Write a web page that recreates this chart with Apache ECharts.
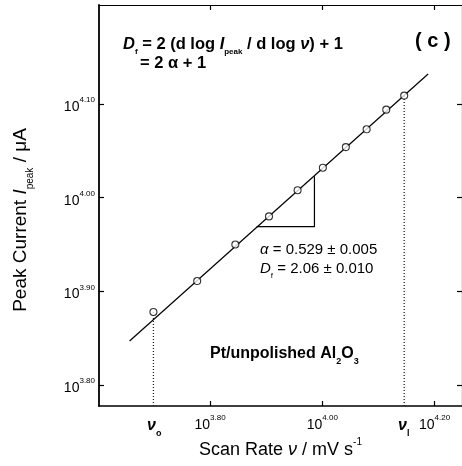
<!DOCTYPE html>
<html>
<head>
<meta charset="utf-8">
<script src="https://cdn.jsdelivr.net/npm/echarts@6/dist/echarts.min.js"></script>
<style>
  html, body { margin: 0; padding: 0; background: #fff; }
  #chart { width: 462px; height: 466px; }
</style>
</head>
<body>
<div id="chart"></div>
<script>
// ---- data (log10 exponents) ----
const scanRateLog   = [3.699, 3.777, 3.845, 3.905, 3.956, 4.001, 4.042, 4.079, 4.114, 4.146];
const peakCurrentLog = [3.878, 3.911, 3.950, 3.980, 4.008, 4.032, 4.054, 4.073, 4.094, 4.109];
const fitLineX = [3.6565, 4.1886];
const fitLineY = [3.847, 4.132];
const slopeTriX = [3.883, 3.986, 3.986];
const slopeTriY = [3.969, 3.969, 4.023];
const xTicks = [3.80, 4.00, 4.20];
const yTicks = [3.80, 3.90, 4.00, 4.10];
const xRange = [3.602, 4.249];
const yRange = [3.7776, 4.2057];

const FONT = '"Liberation Sans", Arial, sans-serif';
const pts = scanRateLog.map((x, i) => [x, peakCurrentLog[i]]);
const fit = fitLineX.map((x, i) => [x, fitLineY[i]]);
const tri = slopeTriX.map((x, i) => [x, slopeTriY[i]]);
const nu0 = [[scanRateLog[0], yRange[0]], [scanRateLog[0], peakCurrentLog[0]]];
const nLast = scanRateLog.length - 1;
const nu1 = [[scanRateLog[nLast], yRange[0]], [scanRateLog[nLast], peakCurrentLog[nLast]]];

const powRich = {
  b: { fontSize: 14, fontFamily: FONT, color: '#000', lineHeight: 20, verticalAlign: 'bottom' },
  s: { fontSize: 8, fontFamily: FONT, color: '#000', lineHeight: 20, verticalAlign: 'top', padding: [2, 0, 0, 0] }
};
const powFmt = v => '{b|10}{s|' + v.toFixed(2) + '}';

const chart = echarts.init(document.getElementById('chart'), null, { renderer: 'canvas' });
chart.setOption({
  animation: false,
  backgroundColor: '#fff',
  grid: { left: 99, right: 0, top: 5, bottom: 60, containLabel: false },
  xAxis: [{
    type: 'value', min: xRange[0], max: xRange[1], position: 'bottom',
    axisLine: { show: true, lineStyle: { color: '#000', width: 1.6 } },
    axisTick: { show: true, inside: true, length: 5, customValues: xTicks, lineStyle: { color: '#000', width: 1.2 } },
    axisLabel: { show: true, customValues: xTicks, formatter: powFmt, rich: powRich, margin: 6 },
    splitLine: { show: false },
    name: '{t|Scan Rate }{i|ν}{t| / mV s}{s|-1}',
    nameLocation: 'middle', nameGap: 24,
    nameTextStyle: {
      rich: {
        t: { fontSize: 18, fontFamily: FONT, color: '#000', lineHeight: 22, verticalAlign: 'bottom' },
        i: { fontSize: 18, fontFamily: FONT, fontStyle: 'italic', color: '#000', lineHeight: 22, verticalAlign: 'bottom' },
        s: { fontSize: 10, fontFamily: FONT, color: '#000', lineHeight: 22, verticalAlign: 'top' }
      }
    }
  }, {
    type: 'value', min: xRange[0], max: xRange[1], position: 'top',
    axisLine: { show: true, lineStyle: { color: '#000', width: 1.2 } },
    axisTick: { show: true, inside: true, length: 5, customValues: xTicks, lineStyle: { color: '#000', width: 1.2 } },
    axisLabel: { show: false }, splitLine: { show: false }
  }],
  yAxis: [{
    type: 'value', min: yRange[0], max: yRange[1], position: 'left',
    axisLine: { show: true, lineStyle: { color: '#000', width: 1.8 } },
    axisTick: { show: true, inside: true, length: 5, customValues: yTicks, lineStyle: { color: '#000', width: 1.2 } },
    axisLabel: { show: true, customValues: yTicks, formatter: powFmt, rich: powRich, margin: 4 },
    splitLine: { show: false },
    name: '{t|Peak Current }{i|I}{sub|peak}{t| / μA}',
    nameLocation: 'middle', nameGap: 64, nameRotate: 90,
    nameTextStyle: {
      padding: [0, 29, 0, 0],
      rich: {
        t: { fontSize: 19, fontFamily: FONT, color: '#000', lineHeight: 24, verticalAlign: 'top' },
        i: { fontSize: 19, fontFamily: FONT, fontStyle: 'italic', color: '#000', lineHeight: 24, verticalAlign: 'top' },
        sub: { fontSize: 10, fontFamily: FONT, color: '#000', lineHeight: 24, verticalAlign: 'bottom' }
      }
    }
  }, {
    type: 'value', min: yRange[0], max: yRange[1], position: 'right',
    axisLine: { show: true, lineStyle: { color: '#000', width: 1.2 } },
    axisTick: { show: true, inside: true, length: 5, customValues: yTicks, lineStyle: { color: '#000', width: 1.2 } },
    axisLabel: { show: false }, splitLine: { show: false }
  }],
  series: [
    { type: 'line', data: fit, symbol: 'none', lineStyle: { color: '#000', width: 1.2 }, z: 2 },
    { type: 'line', data: tri, symbol: 'none', lineStyle: { color: '#000', width: 1.2 }, z: 2 },
    { type: 'line', data: nu0, symbol: 'none', lineStyle: { color: '#222', width: 1.3, type: [1, 2] }, z: 1 },
    { type: 'line', data: nu1, symbol: 'none', lineStyle: { color: '#222', width: 1.3, type: [1, 2] }, z: 1 },
    { type: 'scatter', data: pts, symbol: 'circle', symbolSize: 7,
      itemStyle: { color: '#fff', borderColor: '#000', borderWidth: 1.1 }, z: 5 }
  ],
  graphic: [
    { type: 'text', left: 123, top: 36, z: 10, style: {
        text: '{di|D}{sub|f}{b| = 2 (d log }{bi|I}{sub|peak}{b| / d log }{bi|ν}{b|) + 1}',
        rich: {
          di: { font: 'italic bold 16.5px ' + FONT, fill: '#000', lineHeight: 20, verticalAlign: 'top' },
          b: { font: 'bold 16.5px ' + FONT, fill: '#000', lineHeight: 20, verticalAlign: 'top' },
          bi: { font: 'italic bold 16.5px ' + FONT, fill: '#000', lineHeight: 20, verticalAlign: 'top' },
          sub: { font: 'bold 8px ' + FONT, fill: '#000', lineHeight: 20, verticalAlign: 'bottom' }
        } } },
    { type: 'text', left: 140, top: 55, z: 10, style: {
        text: '= 2 α + 1', font: 'bold 16.5px ' + FONT, fill: '#000' } },
    { type: 'text', left: 415, top: 31, z: 10, style: {
        text: '( c )', font: 'bold 20px ' + FONT, fill: '#000' } },
    { type: 'text', left: 260, top: 242, z: 10, style: {
        text: '{i|α}{t| = 0.529 ± 0.005}',
        rich: {
          i: { font: 'italic 15px ' + FONT, fill: '#000', lineHeight: 19 },
          t: { font: '15px ' + FONT, fill: '#000', lineHeight: 19 }
        } } },
    { type: 'text', left: 260, top: 261, z: 10, style: {
        text: '{i|D}{sub|f}{t| = 2.06 ± 0.010}',
        rich: {
          i: { font: 'italic 15px ' + FONT, fill: '#000', lineHeight: 19, verticalAlign: 'top' },
          t: { font: '15px ' + FONT, fill: '#000', lineHeight: 19, verticalAlign: 'top' },
          sub: { font: '8px ' + FONT, fill: '#000', lineHeight: 19, verticalAlign: 'bottom' }
        } } },
    { type: 'text', left: 210, top: 346, z: 10, style: {
        text: '{t|Pt/unpolished Al}{sub|2}{t|O}{sub|3}',
        rich: {
          t: { font: 'bold 16px ' + FONT, fill: '#000', lineHeight: 20, verticalAlign: 'top' },
          sub: { font: 'bold 9px ' + FONT, fill: '#000', lineHeight: 20, verticalAlign: 'bottom' }
        } } },
    { type: 'text', left: 147, top: 418, z: 10, style: {
        text: '{i|ν}{sub|o}',
        rich: {
          i: { font: 'italic bold 16px ' + FONT, fill: '#000', lineHeight: 20, verticalAlign: 'top' },
          sub: { font: 'bold 9px ' + FONT, fill: '#000', lineHeight: 20, verticalAlign: 'bottom' }
        } } },
    { type: 'text', left: 398, top: 418, z: 10, style: {
        text: '{i|ν}{sub|l}',
        rich: {
          i: { font: 'italic bold 16px ' + FONT, fill: '#000', lineHeight: 20, verticalAlign: 'top' },
          sub: { font: 'bold 9px ' + FONT, fill: '#000', lineHeight: 20, verticalAlign: 'bottom' }
        } } }
  ]
});
</script>
</body>
</html>
